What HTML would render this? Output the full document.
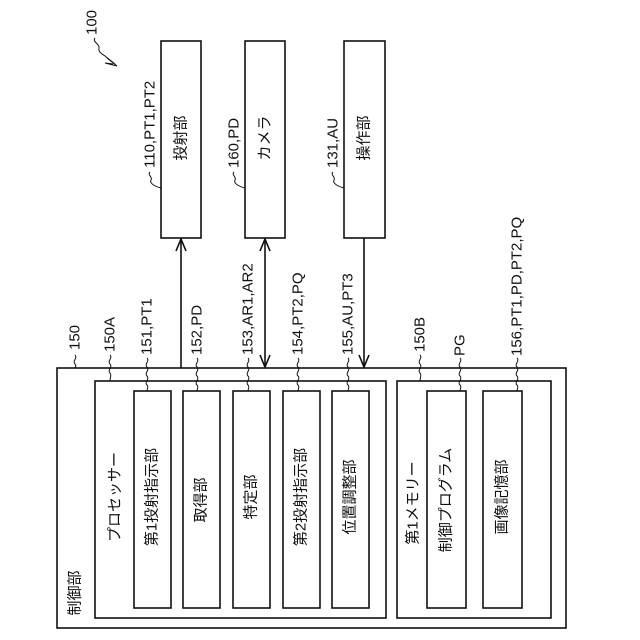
<!DOCTYPE html>
<html><head><meta charset="utf-8"><style>
html,body{margin:0;padding:0;background:#fff;}
svg{display:block;}
text{font-family:"Liberation Sans","Noto Sans CJK JP",sans-serif;font-size:15px;fill:#111;}
</style></head><body>
<svg width="640" height="640" viewBox="0 0 640 640" xmlns="http://www.w3.org/2000/svg">
<g fill="none" stroke="#111" stroke-width="1.6">
<rect x="57" y="368" width="509" height="260"/>
<rect x="95" y="381" width="291" height="237"/>
<rect x="397" y="381" width="154" height="237"/>
<rect x="134" y="391" width="37" height="217"/>
<rect x="183" y="391" width="37" height="217"/>
<rect x="233" y="391" width="37" height="217"/>
<rect x="283" y="391" width="37" height="217"/>
<rect x="332" y="391" width="37" height="217"/>
<rect x="427" y="391" width="39" height="217"/>
<rect x="483" y="391" width="39" height="217"/>
<rect x="161" y="41" width="40" height="197"/>
<rect x="245" y="41" width="40" height="197"/>
<rect x="344" y="41" width="41" height="197"/>
<line x1="181" y1="368" x2="181" y2="239"/>
<polyline points="176,251 181,239 186,251"/>
<line x1="265" y1="367" x2="265" y2="239"/>
<polyline points="260,251 265,239 270,251"/>
<polyline points="260,355 265,367 270,355"/>
<line x1="364" y1="238" x2="364" y2="367"/>
<polyline points="359,355 364,367 369,355"/>
</g>
<g fill="none" stroke="#111" stroke-width="1">
<path d="M95,38 c-3,4 5,6 4,10 c-1,4 3,6 6,8 l10,8"/>
<path d="M107,58 l10,8 l-12,-3 M113,64 l-8,-1"/>
<path d="M150,172 c-3,3 3,5 1,8 c-2,4 6,7 10,8"/>
<path d="M234,172 c-3,3 3,5 1,8 c-2,4 6,7 10,8"/>
<path d="M333,172 c-3,3 3,5 1,8 c-2,4 6,7 10,8"/>
<path d="M75,355 c3,3 -3,6 0,9 c2,2 0,3 0,4"/>
<path d="M110,355 c3,3 -3,6 0,9 c3,3 -3,6 0,9 c2,2 0,5 0,8"/>
<path d="M147,358 c3,3 -3,6 0,9 c3,3 -3,6 0,9 c3,3 -3,6 0,9 c2,2 0,4 0,6"/>
<path d="M197,358 c3,3 -3,6 0,9 c3,3 -3,6 0,9 c3,3 -3,6 0,9 c2,2 0,4 0,6"/>
<path d="M248,358 c3,3 -3,6 0,9 c3,3 -3,6 0,9 c3,3 -3,6 0,9 c2,2 0,4 0,6"/>
<path d="M298,358 c3,3 -3,6 0,9 c3,3 -3,6 0,9 c3,3 -3,6 0,9 c2,2 0,4 0,6"/>
<path d="M348,358 c3,3 -3,6 0,9 c3,3 -3,6 0,9 c3,3 -3,6 0,9 c2,2 0,4 0,6"/>
<path d="M420,355 c3,3 -3,6 0,9 c3,3 -3,6 0,9 c2,2 0,5 0,8"/>
<path d="M460,358 c3,3 -3,6 0,9 c3,3 -3,6 0,9 c3,3 -3,6 0,9 c2,2 0,4 0,6"/>
<path d="M517,358 c3,3 -3,6 0,9 c3,3 -3,6 0,9 c3,3 -3,6 0,9 c2,2 0,4 0,6"/>
</g>
<g dominant-baseline="central">
<text transform="translate(92,35) rotate(-90)">100</text>
<text transform="translate(150,168) rotate(-90)">110,PT1,PT2</text>
<text transform="translate(234,168) rotate(-90)">160,PD</text>
<text transform="translate(333,168) rotate(-90)">131,AU</text>
<text transform="translate(75,350) rotate(-90)">150</text>
<text transform="translate(110,352) rotate(-90)">150A</text>
<text transform="translate(147,355) rotate(-90)">151,PT1</text>
<text transform="translate(197,355) rotate(-90)">152,PD</text>
<text transform="translate(248,355) rotate(-90)">153,AR1,AR2</text>
<text transform="translate(298,355) rotate(-90)">154,PT2,PQ</text>
<text transform="translate(348,355) rotate(-90)">155,AU,PT3</text>
<text transform="translate(420,352) rotate(-90)">150B</text>
<text transform="translate(460,356) rotate(-90)">PG</text>
<text transform="translate(517,356) rotate(-90)">156,PT1,PD,PT2,PQ</text>
</g>
<g dominant-baseline="central" text-anchor="middle">
<text transform="translate(181,138) rotate(-90)">投射部</text>
<text transform="translate(265,138) rotate(-90)">カメラ</text>
<text transform="translate(364,138) rotate(-90)">操作部</text>
<text transform="translate(115,497) rotate(-90)">プロセッサー</text>
<text transform="translate(152,497) rotate(-90)">第1投射指示部</text>
<text transform="translate(201,500) rotate(-90)">取得部</text>
<text transform="translate(251,497) rotate(-90)">特定部</text>
<text transform="translate(301,497) rotate(-90)">第2投射指示部</text>
<text transform="translate(350,497) rotate(-90)">位置調整部</text>
<text transform="translate(413,503) rotate(-90)">第1メモリー</text>
<text transform="translate(446,500) rotate(-90)">制御プログラム</text>
<text transform="translate(502,497) rotate(-90)">画像記憶部</text>
<text transform="translate(75,593) rotate(-90)">制御部</text>
</g>
</svg>
</body></html>
